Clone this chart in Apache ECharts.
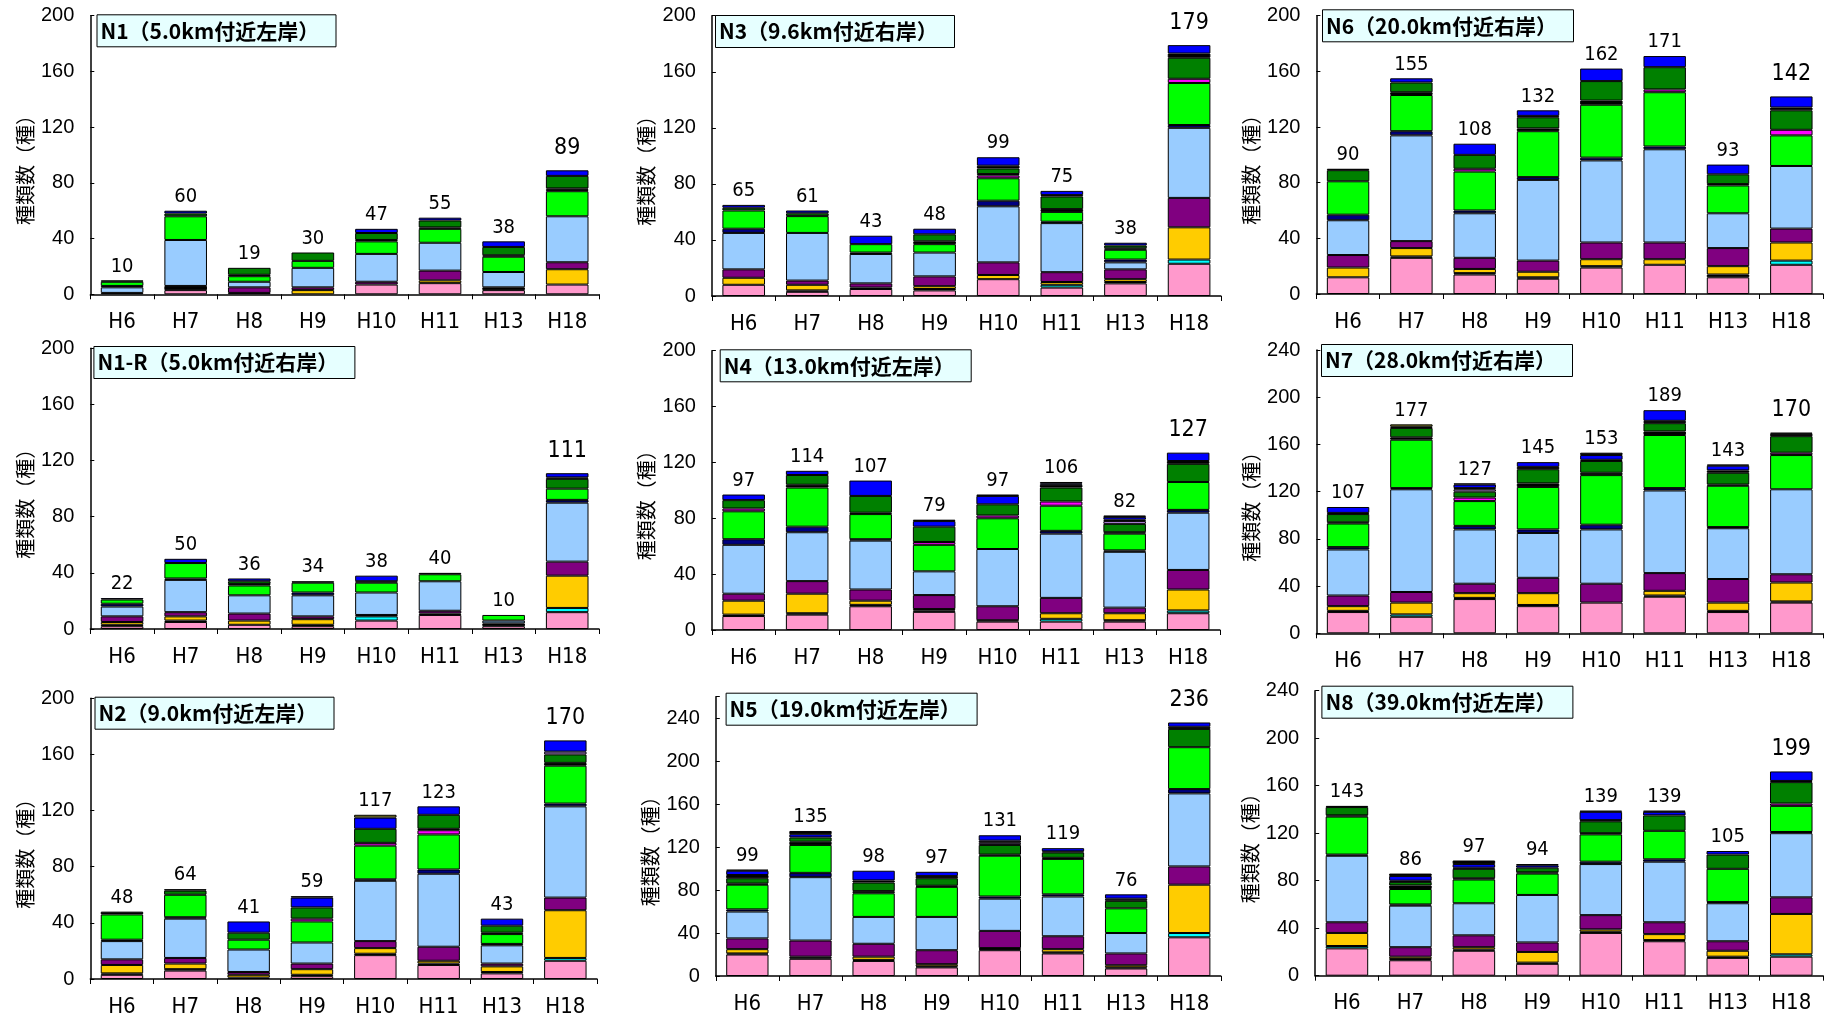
<!DOCTYPE html>
<html><head><meta charset="utf-8">
<script src="https://cdn.jsdelivr.net/npm/echarts@6/dist/echarts.min.js"></script>
<style>html,body{margin:0;padding:0;background:#fff}#c{width:1832px;height:1021px}</style>
</head><body><div id="c"></div>
<script>
const categories = ['H6','H7','H8','H9','H10','H11','H13','H18'];
const segNames = ['pink','black1','cyan','yellow','purple','lightblue','navy','green','magenta','black2','darkgreen','lavender','black3','blue','black4','olive'];
const segColors = ['#FF99CC','#000000','#00FFFF','#FFCC00','#800080','#99CCFF','#000080','#00FF00','#FF00FF','#000000','#008000','#CC99FF','#000000','#0000FF','#000000','#999933'];

// Each bar: segments bottom -> top, in the order of segNames
const N1_bars = [
 [0,1,0,0,0,4,1,3,0,0,1,0,0,0,0,0],
 [3,3,0,0,0,33,0,17,0,0,2,0,0,2,0,0],
 [0,1,0,0,4,4,0,4,0,1,5,0,0,0,0,0],
 [0,0,0,3,2,14,0,5,0,0,6,0,0,0,0,0],
 [7,0,0,0,2,20,0,9,0,1,5,0,0,3,0,0],
 [8,0,0,2,7,20,0,10,0,1,5,0,0,2,0,0],
 [3,2,0,0,0,11,0,11,0,1,6,0,0,4,0,0],
 [7,0,0,11,5,33,0,18,1,1,9,0,0,4,0,0]];
const N1_totals = [10,60,19,30,47,55,38,89];

const N3_bars = [
 [8,0,0,5,6,26,3,13,0,0,2,0,0,2,0,0],
 [3,1,0,4,3,34,0,12,0,0,2,0,0,2,0,0],
 [5,1,0,0,3,21,1,6,0,0,0,0,0,6,0,0],
 [4,1,0,2,7,17,0,6,0,2,5,0,0,4,0,0],
 [12,0,0,3,9,40,4,16,2,1,4,0,2,6,0,0],
 [6,0,2,2,7,35,1,7,0,2,9,0,1,3,0,0],
 [9,1,0,2,7,5,2,7,0,1,2,0,0,2,0,0],
 [23,0,3,23,21,50,2,30,3,0,15,0,3,6,0,0]];
const N3_totals = [65,61,43,48,99,75,38,179];

const N6_bars = [
 [12,0,0,7,9,25,4,24,0,0,8,0,0,0,1,0],
 [26,1,0,6,5,76,3,26,0,2,7,0,0,3,0,0],
 [14,1,0,3,8,32,2,28,2,0,10,0,0,8,0,0],
 [11,1,0,4,8,58,2,33,0,2,8,0,1,4,0,0],
 [19,0,1,5,12,59,2,38,0,3,14,0,0,9,0,0],
 [21,0,0,4,12,67,2,39,2,0,16,0,0,8,0,0],
 [12,2,0,6,13,25,0,20,0,1,7,0,0,7,0,0],
 [21,0,3,13,10,45,0,22,4,0,14,0,2,8,0,0]];
const N6_totals = [90,155,108,132,162,171,93,142];

const N1R_bars = [
 [2,1,0,2,4,7,2,3,0,0,0,0,0,1,0,0],
 [5,1,0,3,3,23,1,11,0,0,0,0,0,3,0,0],
 [3,0,0,3,5,13,0,7,0,1,2,0,0,2,0,0],
 [2,1,0,4,2,15,2,7,0,0,0,0,0,0,1,0],
 [6,0,3,0,1,16,0,7,0,0,0,0,1,4,0,0],
 [10,1,0,0,2,21,0,5,0,0,0,0,0,0,1,0],
 [2,2,0,0,0,2,0,4,0,0,0,0,0,0,0,0],
 [12,0,3,23,10,42,2,8,0,0,7,0,1,3,0,0]];
const N1R_totals = [22,50,36,34,38,40,10,111];

const N4_bars = [
 [10,1,0,10,5,35,4,20,2,0,6,0,0,4,0,0],
 [11,1,0,14,9,35,4,28,0,2,7,0,0,3,0,0],
 [17,1,0,3,8,35,1,18,0,1,12,0,0,11,0,0],
 [13,1,0,1,10,17,0,19,2,0,11,0,0,4,1,0],
 [6,1,0,0,10,41,0,22,2,0,8,0,0,6,1,0],
 [6,0,2,4,11,46,2,18,3,0,10,0,2,1,1,0],
 [6,1,0,5,4,40,1,12,0,1,6,2,1,2,1,0],
 [12,0,2,15,14,41,2,20,0,0,13,0,2,6,0,0]];
const N4_totals = [97,114,107,79,97,106,82,127];

const N7_bars = [
 [18,1,0,4,9,39,2,20,0,1,7,0,1,5,0,0],
 [14,0,2,10,9,87,1,41,0,2,8,0,1,0,0,2],
 [29,1,0,4,8,46,3,21,3,0,5,2,1,3,1,0],
 [23,1,0,10,13,38,3,36,0,3,12,0,2,4,0,0],
 [26,0,0,0,16,46,4,42,0,2,10,0,1,4,2,0],
 [31,1,0,4,15,70,2,45,0,3,7,0,2,9,0,0],
 [18,1,0,7,20,43,1,35,0,1,10,0,2,4,1,0],
 [26,1,0,16,7,72,0,29,2,0,14,0,2,1,0,0]];
const N7_totals = [107,177,127,145,153,189,143,170];

const N2_bars = [
 [3,1,0,6,4,13,1,18,0,0,0,0,0,0,2,0],
 [6,1,0,4,4,28,1,16,0,0,3,0,0,0,1,0],
 [1,0,0,2,2,16,0,7,0,0,5,0,0,8,0,0],
 [2,1,0,4,4,15,0,15,2,0,8,0,0,7,1,0],
 [17,1,0,4,5,43,1,24,2,0,10,0,0,8,0,2],
 [10,1,0,2,10,52,3,25,3,1,10,0,0,6,0,0],
 [4,1,0,4,2,13,1,7,0,1,5,0,0,5,0,0],
 [13,0,2,34,9,65,2,27,0,2,6,2,0,8,0,0]];
const N2_totals = [48,64,41,59,117,123,43,170];

const N5_bars = [
 [20,1,0,4,10,25,2,23,0,1,5,0,3,4,1,0],
 [16,2,0,0,15,59,4,26,0,3,4,0,0,3,3,0],
 [14,1,0,3,12,25,0,22,0,2,8,0,2,9,0,0],
 [8,1,0,2,13,31,0,28,0,1,7,0,2,4,0,0],
 [24,1,0,1,16,30,2,38,0,1,9,2,2,5,0,0],
 [21,1,0,3,12,37,2,33,0,1,5,0,1,3,0,0],
 [7,1,0,2,11,19,0,23,0,0,7,0,2,4,0,0],
 [36,0,4,45,17,68,4,39,0,0,17,0,2,4,0,0]];
const N5_totals = [99,135,98,97,131,119,76,236];

const N8_bars = [
 [23,0,2,11,9,56,1,32,0,1,7,0,0,0,1,0],
 [13,1,0,2,8,35,1,13,0,3,3,0,1,4,2,0],
 [21,1,0,2,10,27,0,20,0,1,8,0,1,3,3,0],
 [10,1,0,9,8,40,0,18,0,1,4,0,0,2,1,0],
 [36,1,0,2,12,43,2,23,0,1,10,0,1,7,1,0],
 [29,1,0,5,10,51,2,24,0,0,13,0,0,3,1,0],
 [15,1,0,5,8,32,1,28,0,0,12,0,0,3,0,0],
 [16,0,2,34,14,54,1,22,2,0,18,0,1,8,0,0]];
const N8_totals = [143,86,97,94,139,139,105,199];

const panelTitles = ['N1（5.0km付近左岸）','N3（9.6km付近右岸）','N6（20.0km付近右岸）',
  'N1-R（5.0km付近右岸）','N4（13.0km付近左岸）','N7（28.0km付近右岸）',
  'N2（9.0km付近左岸）','N5（19.0km付近左岸）','N8（39.0km付近左岸）'];
const panelMax = [200,200,200,200,200,240,200,260,240];
const panelBars = [N1_bars,N3_bars,N6_bars,N1R_bars,N4_bars,N7_bars,N2_bars,N5_bars,N8_bars];
const panelTotals = [N1_totals,N3_totals,N6_totals,N1R_totals,N4_totals,N7_totals,N2_totals,N5_totals,N8_totals];
const yAxisName = '種類数（種）';

// layout (pixels)
const layout = [
 {left:90.3, top:15.7, width:508.7, height:278.6, tx:96.5, ty:14.3},
 {left:711.9, top:15.7, width:509, height:280.3, tx:715, ty:15},
 {left:1316.4, top:15.7, width:506.6, height:278.3, tx:1322, ty:9.3},
 {left:90.3, top:348.3, width:508.7, height:280.7, tx:93.4, ty:346},
 {left:711.9, top:350.7, width:508, height:279.3, tx:719.7, ty:349.3},
 {left:1316.4, top:350, width:506.6, height:283.3, tx:1321, ty:344},
 {left:90.3, top:698.3, width:506.7, height:280.7, tx:94.5, ty:696.7},
 {left:715.8, top:696.7, width:505, height:279.3, tx:725.6, ty:692.7},
 {left:1315.2, top:690.7, width:507.8, height:285, tx:1321.4, ty:685.7}
];

const numFont = "'Liberation Sans',Arial,sans-serif";
const narrowFont = "'Liberation Sans Narrow','DejaVu Sans Condensed','Liberation Sans',sans-serif";
const jpFont = "'Noto Sans CJK JP','Noto Sans CJK SC',sans-serif";

const grid = [], xAxis = [], yAxis = [], series = [], title = [];
panelBars.forEach((bars, p) => {
  const L = layout[p];
  grid.push({left:L.left, top:L.top, width:L.width, height:L.height, containLabel:false});
  title.push({
    text: panelTitles[p], left:L.tx, top:L.ty,
    backgroundColor:'#E6FFFF', borderColor:'#000', borderWidth:1,
    padding:[4,17,4,4],
    textStyle:{fontFamily:jpFont, fontSize:21, fontWeight:'bold', color:'#000', lineHeight:25}
  });
  xAxis.push({
    type:'category', data:categories, gridIndex:p,
    axisLine:{lineStyle:{color:'#000', width:1.5}},
    axisTick:{show:true, length:5, lineStyle:{color:'#000'}},
    axisLabel:{fontFamily:narrowFont, fontSize:22, color:'#000', margin:17}
  });
  yAxis.push({
    type:'value', gridIndex:p, min:0, max:panelMax[p], interval:40,
    name:yAxisName, nameLocation:'middle', nameRotate:90, nameGap:55,
    nameTextStyle:{fontFamily:jpFont, fontSize:20, color:'#000', padding:[0,20,0,0]},
    axisLine:{show:true, lineStyle:{color:'#000', width:1.5}},
    axisTick:{show:true, inside:true, length:4, lineStyle:{color:'#000'}},
    splitLine:{show:false},
    axisLabel:{fontFamily:numFont, fontSize:20, color:'#000', margin:16,
      formatter: v => (v % 40 === 0 ? String(v) : '')}
  });
  segNames.forEach((name, s) => {
    series.push({
      type:'bar', name:name, stack:'p'+p, xAxisIndex:p, yAxisIndex:p,
      barCategoryGap:'33%',
      data: bars.map(b => (b[s] === 0 ? '-' : b[s])),
      itemStyle:{color:segColors[s], borderColor:'#000', borderWidth:1},
      emphasis:{disabled:true}, silent:true
    });
  });
  const totals = panelTotals[p];
  series.push({
    type:'bar', name:'total', stack:'p'+p, xAxisIndex:p, yAxisIndex:p,
    barCategoryGap:'33%',
    data: totals.map((t, i) => (i === totals.length - 1
      ? {value:0, label:{fontSize:23, distance:11}}
      : {value:0})),
    itemStyle:{color:'rgba(0,0,0,0)', borderWidth:0},
    label:{show:true, position:'top', distance:4, fontFamily:narrowFont, fontSize:20, color:'#000',
      formatter: prm => String(totals[prm.dataIndex])},
    silent:true
  });
});

const chart = echarts.init(document.getElementById('c'), null, {renderer:'canvas'});
chart.setOption({animation:false, backgroundColor:'#fff', title, grid, xAxis, yAxis, series, legend:{show:false}, tooltip:{show:false}});
</script></body></html>
